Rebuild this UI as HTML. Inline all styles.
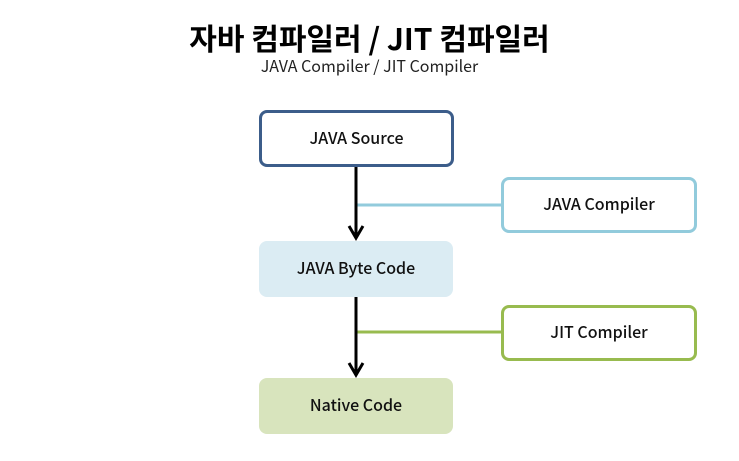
<!DOCTYPE html>
<html><head><meta charset="utf-8"><style>
body{margin:0;width:739px;height:461px;background:#fff;position:relative;overflow:hidden;font-family:"Noto Sans CJK KR",sans-serif}
.b{position:absolute;box-sizing:border-box;border-radius:8px;display:flex;align-items:center;justify-content:center;font-size:16px;font-weight:500;color:#111;padding-bottom:4px}
</style></head><body>
<div style="position:absolute;left:0;width:739px;top:17px;text-align:center;font-size:30px;font-weight:bold;color:#000;line-height:40px">자바 컴파일러 / JIT 컴파일러</div>
<div style="position:absolute;left:0;width:739px;top:53px;text-align:center;font-size:16px;color:#222;line-height:24px">JAVA Compiler / JIT Compiler</div>
<svg width="739" height="461" style="position:absolute;left:0;top:0">
<line x1="357" y1="205" x2="502" y2="205" stroke="#92cbdc" stroke-width="3"/>
<line x1="357" y1="332" x2="502" y2="332" stroke="#98bb4f" stroke-width="3"/>
<line x1="356" y1="167" x2="356" y2="238" stroke="#000" stroke-width="3"/>
<polyline points="349,226 356,238 363,226" fill="none" stroke="#000" stroke-width="3"/>
<line x1="356" y1="297" x2="356" y2="375" stroke="#000" stroke-width="3"/>
<polyline points="349,363 356,375 363,363" fill="none" stroke="#000" stroke-width="3"/>
</svg>
<div class="b" style="left:259px;top:110px;width:195px;height:57px;border:3px solid #3c5d8a;background:#fff">JAVA Source</div>
<div class="b" style="left:259px;top:241px;width:194px;height:56px;background:#dbecf3">JAVA Byte Code</div>
<div class="b" style="left:259px;top:378px;width:194px;height:56px;background:#d8e4bd">Native Code</div>
<div class="b" style="left:501px;top:177px;width:196px;height:56px;border:3px solid #92cbdc;background:#fff">JAVA Compiler</div>
<div class="b" style="left:501px;top:305px;width:196px;height:56px;border:3px solid #98bb4f;background:#fff">JIT Compiler</div>
</body></html>
